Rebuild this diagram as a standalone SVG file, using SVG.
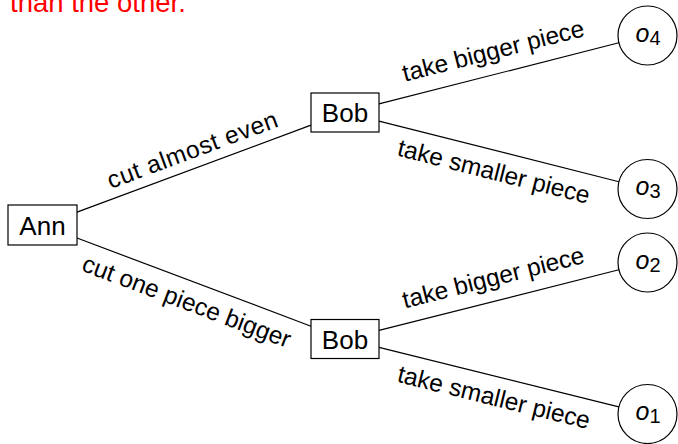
<svg xmlns="http://www.w3.org/2000/svg" width="678" height="444" viewBox="0 0 678 444">
  <style>
    .box { fill: #ffffff; stroke: #000000; stroke-width: 1.2; }
    .leaf { fill: #ffffff; stroke: #000000; stroke-width: 1.2; }
    .edge { stroke: #000000; stroke-width: 1.2; fill: none; }
    .name { font-family: "Liberation Sans", Arial, sans-serif; font-size: 26px; fill: #000000; text-anchor: middle; }
    .lbl { font-family: "Liberation Sans", Arial, sans-serif; font-size: 24.5px; fill: #000000; text-anchor: middle; }
    .out { font-family: "Liberation Sans", Arial, sans-serif; font-size: 25px; fill: #000000; text-anchor: middle; }
    .sub { font-size: 20px; }
    .note { font-family: "Liberation Sans", Arial, sans-serif; font-size: 27.5px; fill: #ff0000; }
  </style>

  <!-- last line of the sentence above the tree -->
  <text class="note" x="10" y="12">than the other.</text>

  <!-- connectors with their move labels -->
  <g id="edges">
    <line class="edge" x1="77" y1="212.17" x2="311" y2="125.14"/>
    <line class="edge" x1="77" y1="238.0" x2="311" y2="326.19"/>
    <line class="edge" x1="379" y1="103.85" x2="618.91" y2="42.78"/>
    <line class="edge" x1="379" y1="121.1" x2="618.9" y2="181.77"/>
    <line class="edge" x1="379" y1="330.4" x2="618.9" y2="269.73"/>
    <line class="edge" x1="379" y1="347.43" x2="618.87" y2="406.9"/>

    <g transform="translate(194 168.66) rotate(-20.4)"><text class="lbl" x="5" y="-10" textLength="180" lengthAdjust="spacing">cut almost even</text></g>
    <g transform="translate(194 282.1) rotate(20.65)"><text class="lbl" x="0" y="29">cut one piece bigger</text></g>
    <g transform="translate(498.96 73.32) rotate(-14.28)"><text class="lbl" x="0" y="-15">take bigger piece</text></g>
    <g transform="translate(498.95 151.44) rotate(14.19)"><text class="lbl" x="0" y="29">take smaller piece</text></g>
    <g transform="translate(498.95 300.07) rotate(-14.19)"><text class="lbl" x="0" y="-15">take bigger piece</text></g>
    <g transform="translate(498.94 377.17) rotate(13.92)"><text class="lbl" x="0" y="29">take smaller piece</text></g>
  </g>

  <!-- decision nodes -->
  <g id="ann">
    <rect class="box" x="8" y="205" width="69" height="40"/>
    <text class="name" x="42.5" y="234.5">Ann</text>
  </g>
  <g id="bob-top">
    <rect class="box" x="311" y="93" width="68" height="39"/>
    <text class="name" x="345" y="122">Bob</text>
  </g>
  <g id="bob-bottom">
    <rect class="box" x="311" y="319.5" width="68" height="39"/>
    <text class="name" x="345" y="348.5">Bob</text>
  </g>

  <!-- outcomes -->
  <g id="o4">
    <circle class="leaf" cx="647.5" cy="35.5" r="29.5"/>
    <text class="out" x="648" y="41.5"><tspan font-style="italic">o</tspan><tspan class="sub" dy="3">4</tspan></text>
  </g>
  <g id="o3">
    <circle class="leaf" cx="647.5" cy="189" r="29.5"/>
    <text class="out" x="648" y="195"><tspan font-style="italic">o</tspan><tspan class="sub" dy="3">3</tspan></text>
  </g>
  <g id="o2">
    <circle class="leaf" cx="647.5" cy="262.5" r="29.5"/>
    <text class="out" x="648" y="268.5"><tspan font-style="italic">o</tspan><tspan class="sub" dy="3">2</tspan></text>
  </g>
  <g id="o1">
    <circle class="leaf" cx="647.5" cy="414" r="29.5"/>
    <text class="out" x="648" y="420"><tspan font-style="italic">o</tspan><tspan class="sub" dy="3">1</tspan></text>
  </g>
</svg>
